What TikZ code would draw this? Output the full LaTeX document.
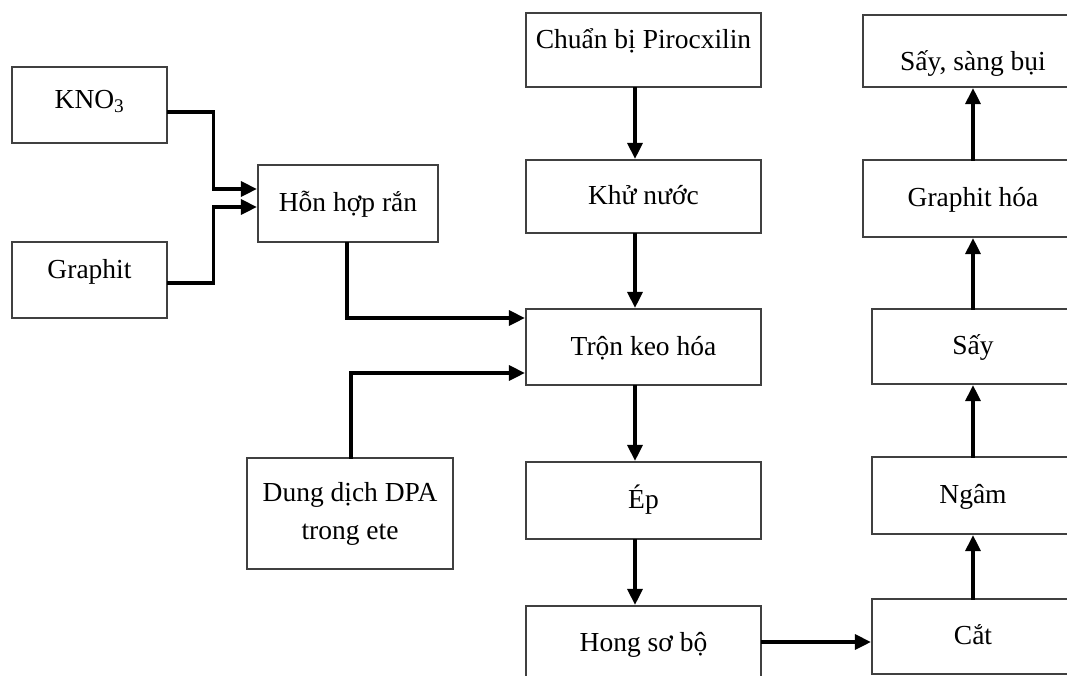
\documentclass[tikz,border=0pt]{standalone}
\usepackage{fontspec}
\setmainfont{Liberation Serif}
\usetikzlibrary{arrows.meta}

\begin{document}
\begin{tikzpicture}[x=1pt,y=-1pt,line cap=rect,
        >={Triangle[length=16pt,width=15pt]},
        stage/.style={draw=black!75,line width=2.2pt,rectangle,inner sep=0pt,
            font=\fontsize{27.5}{38}\selectfont,text height=22pt,text depth=6pt},
        flow/.style={->,line width=3.2pt,black}]
        % page and clipping
        \useasboundingbox (0,0) rectangle (1067,675);
        \clip (0,0) rectangle (1067,675);

        % draw the raw materials
        \node[stage,minimum width=155pt,minimum height=76pt,text height=20pt,text depth=14pt] (kno) at (89.5,105) {KNO\textsubscript{3}};
        \node[stage,minimum width=155pt,minimum height=76pt,text height=14pt,text depth=18pt] (graphit) at (89.5,280) {Graphit};
        \node[stage,minimum width=180pt,minimum height=77pt] (hon) at (348,203.5) {Hỗn hợp rắn};
        \node[stage,minimum width=206pt,minimum height=111pt,align=center,text height=,text depth=] (dpa) at (350,513.5) {Dung dịch DPA\\trong ete};

        % draw the middle column
        \node[stage,minimum width=235pt,minimum height=74pt,text height=14pt,text depth=18pt] (chuan) at (643.5,50) {Chuẩn bị Pirocxilin};
        \node[stage,minimum width=235pt,minimum height=73pt] (khu) at (643.5,196.5) {Khử nước};
        \node[stage,minimum width=235pt,minimum height=76pt] (tron) at (643.5,347) {Trộn keo hóa};
        \node[stage,minimum width=235pt,minimum height=77pt] (ep) at (643.5,500.5) {Ép};
        \node[stage,minimum width=235pt,minimum height=75pt] (hong) at (643.5,643.5) {Hong sơ bộ};

        % draw the right column
        \node[stage,minimum width=220pt,minimum height=72pt,text height=44pt,text depth=6pt] (saysang) at (973,51) {Sấy, sàng bụi};
        \node[stage,minimum width=220pt,minimum height=77pt] (grhoa) at (973,198.5) {Graphit hóa};
        \node[stage,minimum width=202pt,minimum height=75pt] (say) at (973,346.5) {Sấy};
        \node[stage,minimum width=202pt,minimum height=77pt] (ngam) at (973,495.5) {Ngâm};
        \node[stage,minimum width=202pt,minimum height=75pt] (cat) at (973,636.5) {Cắt};

        % draw the feed lines
        \draw[flow] ([yshift=-7pt]kno.east) -- ++(45,0) |- ([yshift=14.5pt]hon.west);
        \draw[flow] ([yshift=-3pt]graphit.east) -- ++(45,0) |- ([yshift=-3.5pt]hon.west);
        \draw[flow] ([xshift=-1pt]hon.south) |- ([yshift=29pt]tron.west);
        \draw[flow] ([xshift=1pt]dpa.north) |- ([yshift=-26pt]tron.west);

        % draw the process chain
        \foreach \a/\b in {chuan/khu,khu/tron,tron/ep,ep/hong}
            \draw[flow] ([xshift=-8.5pt]\a.south) -- ([xshift=-8.5pt]\b.north);
        \draw[flow] ([yshift=1.5pt]hong.east) -- ([yshift=-5.5pt]cat.west);
        \foreach \a/\b in {cat/ngam,ngam/say,say/grhoa,grhoa/saysang}
            \draw[flow] (\a.north) -- (\b.south);
\end{tikzpicture}
\end{document}
